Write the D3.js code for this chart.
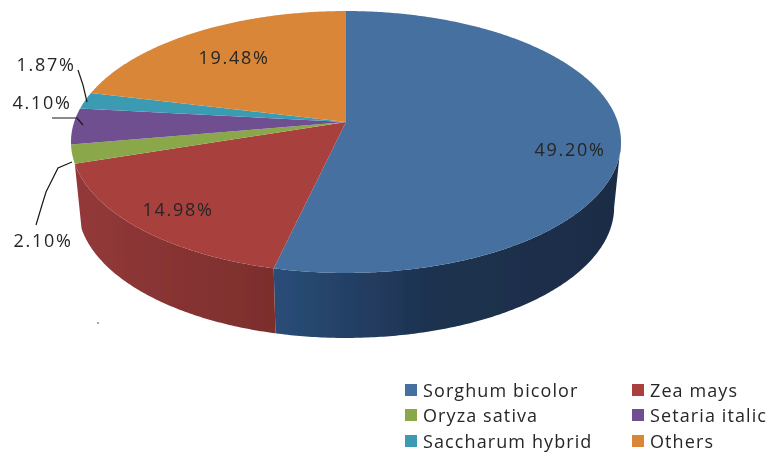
<!DOCTYPE html>
<html><head><meta charset="utf-8">
<script src="https://cdn.jsdelivr.net/npm/d3@7"></script>
<style>
html,body{margin:0;padding:0;background:#fff}
svg{display:block}
text{font-family:"Open Sans",sans-serif;fill:#262626}
</style></head><body>
<svg id="c" width="769" height="452"></svg>
<script>
const categories = ["Sorghum bicolor","Zea mays","Oryza sativa","Setaria italic","Saccharum hybrid","Others"];
const shares = [49.20,14.98,2.10,4.10,1.87,19.48];
const labels = ["49.20%","14.98%","2.10%","4.10%","1.87%","19.48%"];
const topColors = ["#44709f","#a8403e","#8aa748","#6f4f90","#3a9bb3","#d98638"];
const labelPos = [[570,149],[178,209],[43,240],[42,102],[46,64],[234,57]];
const legendRows = [[0,403,390],[1,630,390],[2,403,415],[3,630,415],[4,403,441],[5,630,441]];
const leaders = [
  [[78,70],[83,85],[87,102]],
  [[52,118],[77,118],[83,125]],
  [[36,225],[42,205],[46,192],[58,168],[72,162]]
];

const svg = d3.select("#c");
const pie = d3.pie().sort(null).value(d=>d)(shares);
const color = d3.scaleOrdinal(categories, topColors);

// Perspective disc: centre point and foreshortening of the pie plane
const apex = [346,122], k = 0.1527, R = 271.8, B = 127.9;
const project = (a, dy=0, sx=1) => {
  const u = Math.sin(a), v = -Math.cos(a), w = 1 - k*v;
  return [apex[0] + sx*R*u/w, apex[1] + dy + B*v/w];
};
const depth = 65, bottomScale = 0.975;
const arcPts = (a0,a1,dy,sx) => {
  const n = Math.max(2, Math.ceil((a1-a0)/0.01));
  return d3.range(n+1).map(i => project(a0+(a1-a0)*i/n, dy, sx));
};
const line = d3.line();
const defs = svg.append("defs");
const addGrad = (id,x1,x2,stops) => {
  const g = defs.append("linearGradient").attr("id",id).attr("gradientUnits","userSpaceOnUse")
    .attr("x1",x1).attr("x2",x2).attr("y1",0).attr("y2",0);
  stops.forEach(([o,c])=>g.append("stop").attr("offset",o).attr("stop-color",c));
};
addGrad("side0",274,621,[[0,"#2a4d78"],[0.45,"#1d3250"],[1,"#1a2c45"]]);
addGrad("side1",72,274,[[0,"#93393a"],[1,"#7c2e2c"]]);
defs.append("filter").attr("id","soft").append("feGaussianBlur").attr("stdDeviation",0.55);

const root = svg.append("g").attr("filter","url(#soft)");
// side walls: only the two large front slices show a wall
const rightTangent = Math.acos(-k);
[0,1].forEach(i=>{
  const d = pie[i];
  const a0 = Math.max(d.startAngle, rightTangent), a1 = d.endAngle;
  const pts = arcPts(a0,a1,0,1).concat(arcPts(a0,a1,depth,bottomScale).reverse());
  root.append("path").attr("d",line(pts)+"Z").attr("fill",`url(#side${i})`);
});
// top faces
root.selectAll("path.top").data(pie).enter().append("path").attr("class","top")
  .attr("d",d=>line([apex].concat(arcPts(d.startAngle,d.endAngle,0,1)))+"Z")
  .attr("fill",(d,i)=>color(categories[i]));

// leader lines
root.selectAll("path.lead").data(leaders).enter().append("path").attr("class","lead")
  .attr("d",d=>line(d)).attr("fill","none").attr("stroke","#1a1a1a").attr("stroke-width",1.2);

// value labels
root.selectAll("text.val").data(labels).enter().append("text").attr("class","val")
  .attr("x",(d,i)=>labelPos[i][0]).attr("y",(d,i)=>labelPos[i][1]+6.5)
  .attr("text-anchor","middle").attr("font-size",18).attr("letter-spacing",1.7).text(d=>d);

// legend
legendRows.forEach(([i,x,y])=>{
  root.append("rect").attr("x",x+2).attr("y",y-6).attr("width",12).attr("height",12).attr("fill",topColors[i]);
  root.append("text").attr("x",x+20).attr("y",y+6.5).attr("font-size",18).attr("letter-spacing",1.1).text(categories[i]);
});
root.append("circle").attr("cx",98).attr("cy",323).attr("r",0.8).attr("fill","#333");
</script></body></html>
